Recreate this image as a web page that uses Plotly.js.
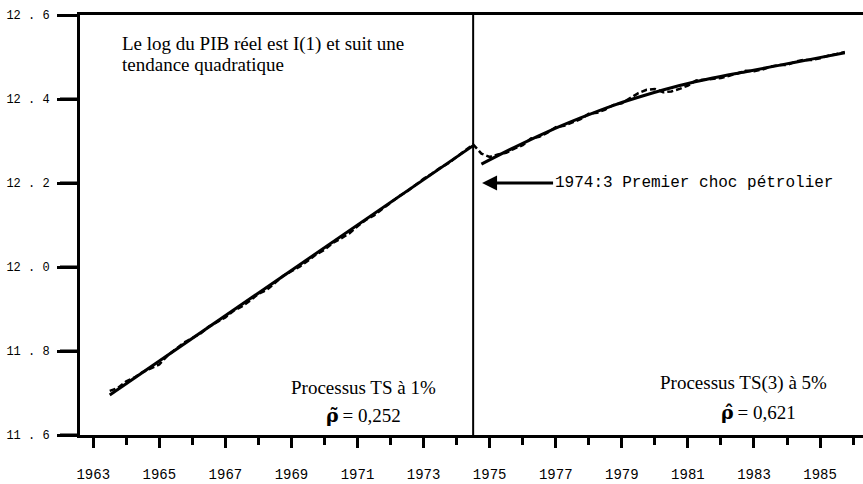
<!DOCTYPE html>
<html>
<head>
<meta charset="utf-8">
<script src="https://cdn.plot.ly/plotly-3.0.1.min.js"></script>
<style>
  html, body { margin: 0; padding: 0; background: #fff; }
  #chart { width: 863px; height: 484px; }
</style>
</head>
<body>
<div id="chart"></div>
<script>
// Quarterly log of real GDP, starting 1963:3
const quarterStart = 1963.5;
const gdpLog = [
  11.705, 11.712, 11.728, 11.737, 11.750, 11.760, 11.768, 11.789, 11.804, 11.820,
  11.831, 11.842, 11.858, 11.868, 11.880, 11.896, 11.906, 11.920, 11.936, 11.945,
  11.962, 11.979, 11.990, 12.001, 12.015, 12.030, 12.041, 12.057, 12.068, 12.080,
  12.097, 12.112, 12.123, 12.138, 12.155, 12.168, 12.180, 12.196, 12.210, 12.222,
  12.236, 12.247, 12.262, 12.276, 12.292,
  12.270, 12.262, 12.268, 12.272, 12.282, 12.290, 12.306, 12.310, 12.320, 12.333,
  12.336, 12.344, 12.352, 12.365, 12.367, 12.375, 12.386, 12.390, 12.402, 12.414,
  12.422, 12.424, 12.416, 12.418, 12.424, 12.432, 12.444, 12.446, 12.448, 12.450,
  12.455, 12.461, 12.467, 12.466, 12.470, 12.477, 12.481, 12.481, 12.489, 12.493,
  12.493, 12.497, 12.503, 12.507, 12.512
];
// Fitted trends (before / after the break)
const trendLeftYears = [1963.5, 1974.5];
const trendLeft = [11.695, 12.289];
const trendRightYears = [1974.75, 1975.75, 1976.75, 1977.75, 1978.75, 1979.75,
                         1980.75, 1981.75, 1982.75, 1983.75, 1984.75, 1985.75];
const trendRight = [12.245, 12.285, 12.322, 12.355, 12.385, 12.410,
                    12.432, 12.450, 12.465, 12.480, 12.495, 12.510];
const breakDate = 1974.5;
const breakLabel = "1974:3 Premier choc pétrolier";
const yTickVals = [11.6, 11.8, 12.0, 12.2, 12.4, 12.6];
const yTickText = ["11 . 6", "11 . 8", "12 . 0", "12 . 2", "12 . 4", "12 . 6"];
const xTickVals = [1963, 1965, 1967, 1969, 1971, 1973, 1975, 1977, 1979, 1981, 1983, 1985];
const xTickText = ["1963", "1965", "1967", "1969", "1971", "1973", "1975", "1977", "1979", "1981", "1983", "1985"];
const xMinorVals = [1964, 1966, 1968, 1970, 1972, 1974, 1976, 1978, 1980, 1982, 1984, 1986];

const quarterDates = gdpLog.map((v, i) => quarterStart + i / 4);

const mono = "Liberation Mono, Courier New, monospace";
const serif = "Liberation Serif, Times New Roman, serif";
const rhoFont = "DejaVu Serif";

const traces = [
  { x: quarterDates, y: gdpLog, mode: "lines", type: "scatter",
    line: { color: "#000", width: 2.5, dash: "6px,3px" }, hoverinfo: "skip" },
  { x: trendLeftYears, y: trendLeft, mode: "lines", type: "scatter",
    line: { color: "#000", width: 3 }, hoverinfo: "skip" },
  { x: trendRightYears, y: trendRight, mode: "lines", type: "scatter",
    line: { color: "#000", width: 3, shape: "spline" }, hoverinfo: "skip" }
];

// y-axis tick marks (drawn explicitly so they are always visible)
const yTickShapes = yTickVals.map(v => ({
  type: "line", xref: "paper", yref: "y", x0: -20 / 783, x1: 0, y0: v, y1: v,
  line: { color: "#000", width: 3 }
}));

const layout = {
  width: 863, height: 484,
  margin: { l: 80, r: 0, t: 15, b: 49, pad: 0 },
  paper_bgcolor: "#fff", plot_bgcolor: "#fff",
  showlegend: false,
  xaxis: {
    range: [1962.6, 1986.3],
    tickmode: "array", tickvals: xTickVals, ticktext: xTickText,
    ticks: "outside", ticklen: 10, tickwidth: 3, tickcolor: "#000",
    minor: { tickmode: "array", tickvals: xMinorVals, ticks: "outside", ticklen: 7, tickwidth: 3, tickcolor: "#000" },
    showline: true, linecolor: "#000", linewidth: 3, mirror: true,
    showgrid: false, zeroline: false,
    ticklabelstandoff: 14,
    tickfont: { family: mono, size: 14, color: "#000" }
  },
  yaxis: {
    range: [11.6, 12.6],
    tickmode: "array", tickvals: yTickVals, ticktext: yTickText,
    ticks: "outside", ticklen: 20, tickwidth: 3, tickcolor: "#000",
    showline: true, linecolor: "#000", linewidth: 3,
    showgrid: false, zeroline: false,
    ticklabelstandoff: 5,
    tickfont: { family: mono, size: 12, color: "#000" }
  },
  shapes: [
    { type: "line", xref: "x", yref: "y", x0: breakDate, x1: breakDate, y0: 11.6, y1: 12.6,
      line: { color: "#000", width: 2 } }
  ].concat(yTickShapes),
  annotations: [
    { xref: "paper", yref: "paper", x: 0.051, y: 0.93, xanchor: "left", yanchor: "middle",
      text: "Le log du PIB réel est I(1) et suit une", showarrow: false,
      font: { family: serif, size: 19, color: "#000" } },
    { xref: "paper", yref: "paper", x: 0.051, y: 0.882, xanchor: "left", yanchor: "middle",
      text: "tendance quadratique", showarrow: false,
      font: { family: serif, size: 19, color: "#000" } },
    { xref: "x", yref: "y", x: 1974.77, y: 12.2, ax: 71, ay: 0,
      xanchor: "left", yanchor: "middle",
      text: breakLabel, showarrow: true, arrowhead: 2, arrowsize: 1, arrowwidth: 3,
      arrowcolor: "#000", standoff: 0, startstandoff: 0,
      font: { family: mono, size: 16, color: "#000" } },
    { xref: "paper", yref: "paper", x: 0.3615, y: 0.112, xanchor: "center", yanchor: "middle",
      text: "Processus TS à 1%", showarrow: false,
      font: { family: serif, size: 19, color: "#000" } },
    { xref: "paper", yref: "paper", x: 0.3615, y: 0.047, xanchor: "center", yanchor: "middle",
      text: "<span style='font-family:" + rhoFont + "'><b>ρ̃</b></span>\u2009= 0,252", showarrow: false,
      font: { family: serif, size: 19, color: "#000" } },
    { xref: "paper", yref: "paper", x: 0.847, y: 0.124, xanchor: "center", yanchor: "middle",
      text: "Processus TS(3) à 5%", showarrow: false,
      font: { family: serif, size: 19, color: "#000" } },
    { xref: "paper", yref: "paper", x: 0.866, y: 0.055, xanchor: "center", yanchor: "middle",
      text: "<span style='font-family:" + rhoFont + "'><b>ρ̂</b></span>\u2009= 0,621", showarrow: false,
      font: { family: serif, size: 19, color: "#000" } }
  ]
};

Plotly.newPlot("chart", traces, layout, { displayModeBar: false, staticPlot: true });
</script>
</body>
</html>
